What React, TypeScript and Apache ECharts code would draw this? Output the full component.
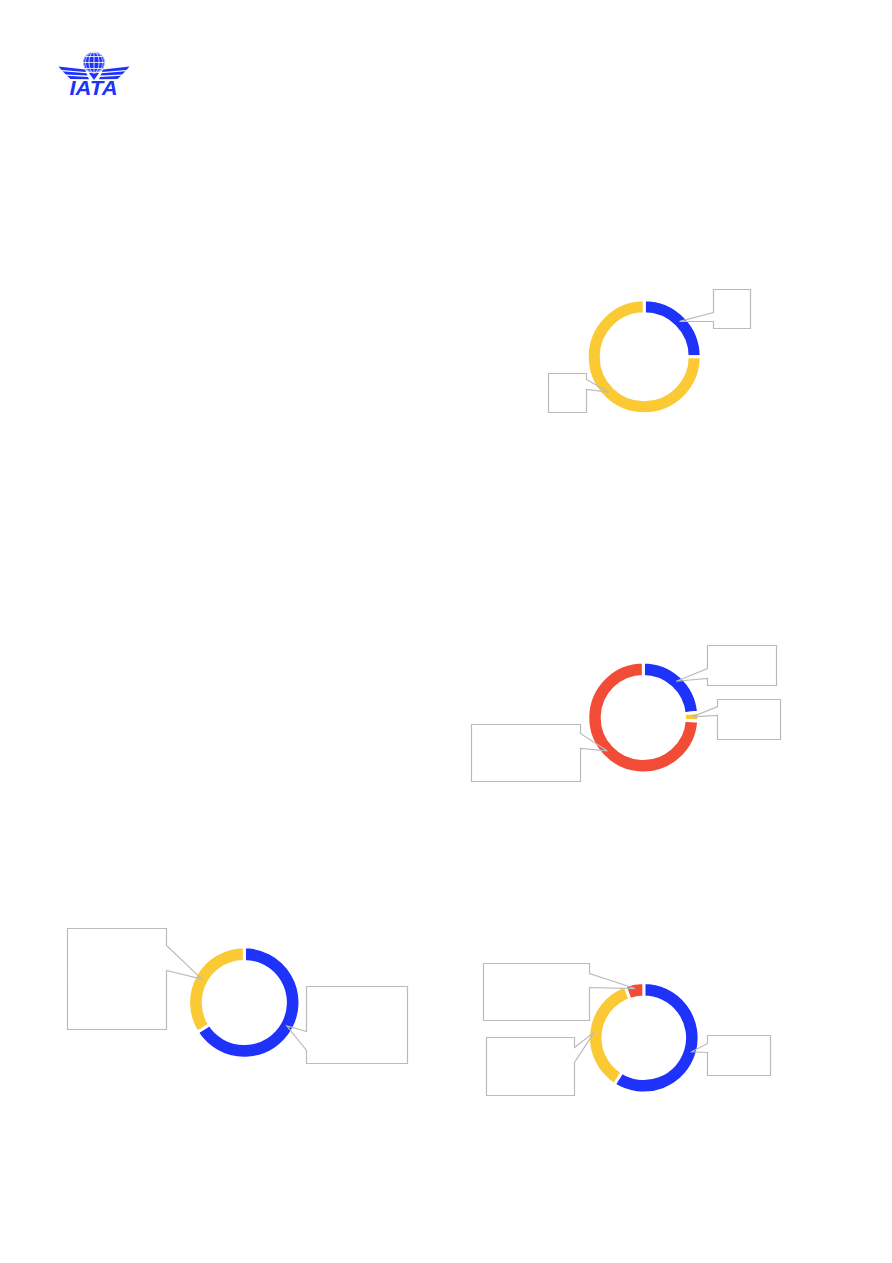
import React, { useEffect, useRef } from "react";
import * as echarts from "echarts";

// ---------- data ----------
const BLUE = "#1E32FA";
const YELLOW = "#FBC933";
const RED = "#F24B36";

const donut1Categories = ["Segment A", "Segment B"];
const donut1Values = [25, 75];
const donut1Colors = [BLUE, YELLOW];

const donut2Categories = ["Segment A", "Segment B", "Segment C"];
const donut2Values = [23.5, 2.6, 73.9];
const donut2Colors = [BLUE, YELLOW, RED];

const donut3Categories = ["Segment A", "Segment B"];
const donut3Values = [66, 34];
const donut3Colors = [BLUE, YELLOW];

const donut4Categories = ["Segment A", "Segment B", "Segment C"];
const donut4Values = [59, 35.5, 5.5];
const donut4Colors = [BLUE, YELLOW, RED];

// ---------- layout ----------
type Box = { x0: number; y0: number; x1: number; y1: number; side: "left" | "right"; ya: number; yb: number };

const donutLayouts = [
  { center: [644.2, 356.8], inner: 43, outer: 57, tipR: 50 },
  { center: [643.3, 717.5], inner: 41.1, outer: 55.5, tipR: 49 },
  { center: [244.3, 1002.5], inner: 41.1, outer: 55.7, tipR: 48.5 },
  { center: [643.8, 1037.8], inner: 40.8, outer: 55.3, tipR: 50 },
];

const callouts1: Box[] = [
  { x0: 713.5, y0: 289.5, x1: 750.5, y1: 328.5, side: "left", ya: 312.5, yb: 321.5 },
  { x0: 548.5, y0: 373.5, x1: 586.5, y1: 412.5, side: "right", ya: 379.5, yb: 389.5 },
];
const callouts2: Box[] = [
  { x0: 707.5, y0: 645.5, x1: 776.5, y1: 685.5, side: "left", ya: 668.5, yb: 678.5 },
  { x0: 717.5, y0: 699.5, x1: 780.5, y1: 739.5, side: "left", ya: 706.5, yb: 715.5 },
  { x0: 471.5, y0: 724.5, x1: 580.5, y1: 781.5, side: "right", ya: 733.5, yb: 748.5 },
];
const callouts3: Box[] = [
  { x0: 306.5, y0: 986.5, x1: 407.5, y1: 1063.5, side: "left", ya: 1031.5, yb: 1050.5 },
  { x0: 67.5, y0: 928.5, x1: 166.5, y1: 1029.5, side: "right", ya: 945.5, yb: 970.5 },
];
const callouts4: Box[] = [
  { x0: 707.5, y0: 1035.5, x1: 770.5, y1: 1075.5, side: "left", ya: 1043.5, yb: 1052.5 },
  { x0: 486.5, y0: 1037.5, x1: 574.5, y1: 1095.5, side: "right", ya: 1047.5, yb: 1062.5 },
  { x0: 483.5, y0: 963.5, x1: 589.5, y1: 1020.5, side: "right", ya: 973.5, yb: 987.5 },
];

const donuts = [
  { cats: donut1Categories, vals: donut1Values, cols: donut1Colors, boxes: callouts1 },
  { cats: donut2Categories, vals: donut2Values, cols: donut2Colors, boxes: callouts2 },
  { cats: donut3Categories, vals: donut3Values, cols: donut3Colors, boxes: callouts3 },
  { cats: donut4Categories, vals: donut4Values, cols: donut4Colors, boxes: callouts4 },
];

function sliceTips(vals: number[], cx: number, cy: number, r: number) {
  const total = vals.reduce((a, b) => a + b, 0);
  let cum = 0;
  return vals.map((v) => {
    const mid = ((cum + v / 2) / total) * Math.PI * 2;
    cum += v;
    return [cx + r * Math.sin(mid), cy - r * Math.cos(mid)];
  });
}

function calloutPolygon(b: Box, tip: number[]) {
  if (b.side === "left") {
    return [
      [b.x0, b.y0], [b.x1, b.y0], [b.x1, b.y1], [b.x0, b.y1],
      [b.x0, b.yb], tip, [b.x0, b.ya],
    ];
  }
  return [
    [b.x0, b.y0], [b.x1, b.y0], [b.x1, b.ya], tip, [b.x1, b.yb],
    [b.x1, b.y1], [b.x0, b.y1],
  ];
}

function logoElements(): any[] {
  const els: any[] = [];
  const cx = 94, cy = 62.5, r = 10.8;
  // wings (left side, mirrored for right)
  const stripes = [
    [[58.5, 66.5], [85, 69.5], [86, 72], [61.5, 70]],
    [[62.5, 71.2], [86.5, 73.3], [87.5, 75.6], [66, 74.6]],
    [[67, 75.8], [88, 77], [89, 79.2], [70.5, 79]],
  ];
  stripes.forEach((s) => {
    els.push({ type: "polygon", shape: { points: s }, style: { fill: BLUE }, z: 10 });
    els.push({ type: "polygon", shape: { points: s.map((p) => [2 * cx - p[0], p[1]]) }, style: { fill: BLUE }, z: 10 });
  });
  els.push({ type: "polygon", shape: { points: [[89, 73], [99, 73], [94, 80]] }, style: { fill: BLUE }, z: 10 });
  // globe
  els.push({ type: "circle", shape: { cx, cy, r }, style: { fill: BLUE }, z: 11 });
  els.push({ type: "ellipse", shape: { cx, cy, rx: 5, ry: r - 0.5 }, style: { fill: "none", stroke: "#fff", lineWidth: 0.8 }, z: 12 });
  els.push({ type: "ellipse", shape: { cx, cy, rx: 8.5, ry: r - 0.5 }, style: { fill: "none", stroke: "#fff", lineWidth: 0.6 }, z: 12 });
  els.push({ type: "line", shape: { x1: cx, y1: cy - r, x2: cx, y2: cy + r }, style: { stroke: "#fff", lineWidth: 0.8 }, z: 12 });
  [-6, 0, 6].forEach((dy) => {
    const half = Math.sqrt(r * r - dy * dy) - 0.3;
    els.push({ type: "line", shape: { x1: cx - half, y1: cy + dy, x2: cx + half, y2: cy + dy }, style: { stroke: "#fff", lineWidth: 0.8 }, z: 12 });
  });
  els.push({ type: "circle", shape: { cx, cy, r: r - 0.4 }, style: { fill: "none", stroke: "#fff", lineWidth: 0.6 }, z: 12 });
  // text
  els.push({
    type: "text",
    x: 93.5,
    y: 97.5,
    scaleX: 1.1,
    originX: 0,
    originY: 0,
    style: {
      text: "IATA",
      fill: BLUE,
      font: "italic bold 20px 'Liberation Sans', Arial, sans-serif",
      textAlign: "center",
      textVerticalAlign: "bottom",
    },
    z: 10,
  });
  return els;
}

export default function App() {
  const ref = useRef<HTMLDivElement>(null);
  useEffect(() => {
    if (!ref.current) return;
    const chart = echarts.init(ref.current, undefined, { renderer: "svg" });
    const series: any[] = donuts.map((d, i) => ({
      type: "pie",
      silent: true,
      center: donutLayouts[i].center,
      radius: [donutLayouts[i].inner, donutLayouts[i].outer],
      startAngle: 90,
      clockwise: true,
      label: { show: false },
      labelLine: { show: false },
      emphasis: { disabled: true },
      itemStyle: { borderColor: "#ffffff", borderWidth: 3 },
      data: d.cats.map((c, j) => ({ name: c, value: d.vals[j], itemStyle: { color: d.cols[j] } })),
    }));
    const graphics: any[] = [];
    donuts.forEach((d, i) => {
      const L = donutLayouts[i];
      const tips = sliceTips(d.vals, L.center[0], L.center[1], L.tipR);
      d.boxes.forEach((b, j) => {
        graphics.push({
          type: "polygon",
          silent: true,
          z: 20,
          shape: { points: calloutPolygon(b, tips[j]) },
          style: { fill: "none", stroke: "#BBBBBB", lineWidth: 1.2 },
        });
      });
    });
    chart.setOption({
      animation: false,
      backgroundColor: "#ffffff",
      series,
      graphic: { elements: [...logoElements(), ...graphics] },
    });
    return () => chart.dispose();
  }, []);
  return (
    <div
      ref={ref}
      style={{ position: "absolute", left: 0, top: 0, width: 892, height: 1263 }}
    />
  );
}
